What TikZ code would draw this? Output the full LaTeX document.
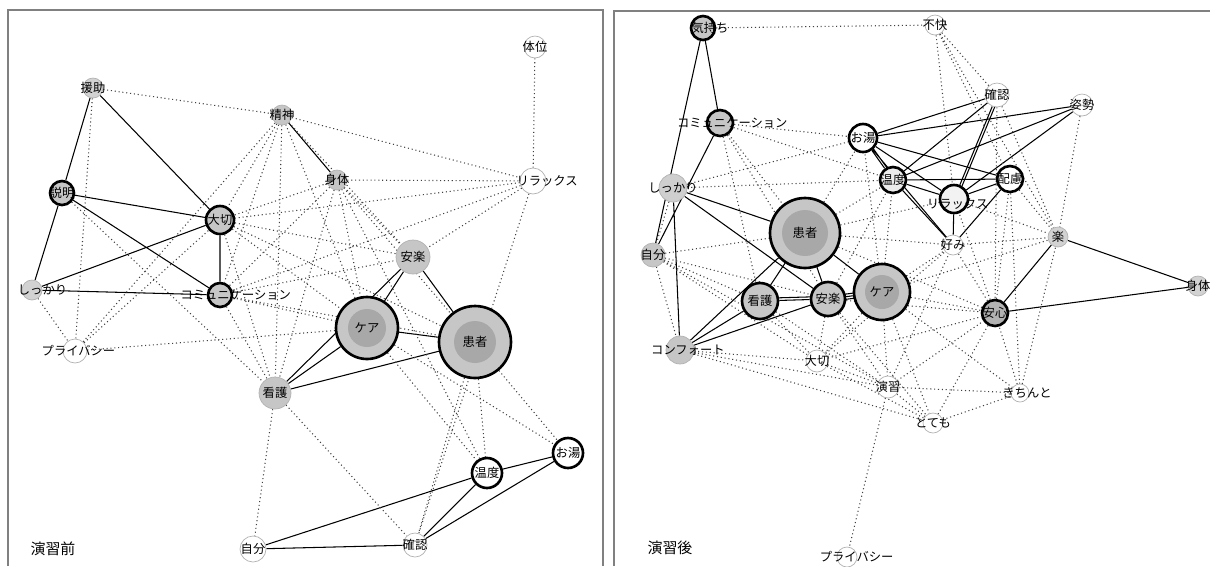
\documentclass[tikz,border=0pt]{standalone}
\usepackage{fontspec}
\setmainfont{Noto Sans CJK JP}
\usetikzlibrary{backgrounds}
\tikzset{
  kw/.style={circle,inner sep=0pt,minimum size=#1*0.4mm,draw=gray!60,fill=gray!45,line width=0.4pt},
  shiro/.style={fill=white},
  futo/.style={draw=black,line width=1.5pt},
  oki/.style={fill=gray!45,path picture={\fill[gray!68](path picture bounding box.center)circle[radius=#1*0.2mm];}},
  go/.style={font=\fontsize{7}{8}\selectfont,inner sep=0pt},
  sen/.style={line width=0.6pt},
  ten/.style={line width=0.6pt,black!75,dash pattern=on 0.6pt off 1.6pt},
  waku/.style={gray,line width=1pt},
}
\begin{document}
\begin{tikzpicture}[x=0.02cm,y=-0.02cm]
  \useasboundingbox(0,0)rectangle(1210,566);
  \draw[waku](8,566)--(8,10)--(603,10)--(603,566);
  \draw[waku](614,566)--(614,11)--(1210,11);
  \begin{scope}
    \node[kw=10,fill=gray!35,label={[go]center:援助}](enjo)at(93,88){};
    \node[kw=10,label={[go]center:精神}](seishin)at(282,115){};
    \node[kw=11,shiro,label={[go]center:体位}](taii)at(535,47){};
    \node[kw=10,label={[go]center:身体}](shintai)at(337,180){};
    \node[kw=13,shiro,label={[go,xshift=8pt]center:リラックス}](relax)at(533,181){};
    \node[kw=12,futo,label={[go]center:説明}](setsumei)at(62,193){};
    \node[kw=14,futo,label={[go]center:大切}](taisetsu)at(220,220){};
    \node[kw=17,label={[go]center:安楽}](anraku)at(413,257){};
    \node[kw=10,fill=gray!35,label={[go,xshift=6pt]center:しっかり}](shikkari)at(32,290){};
    \node[kw=12,futo,label={[go,xshift=9pt]center:コミュニケーション}](comm)at(220,295){};
    \node[kw=12,shiro,label={[go,xshift=2pt]center:プライバシー}](privacy)at(75,351){};
    \node[kw=31,futo,oki=19,label={[go]center:ケア}](care)at(367,328){};
    \node[kw=36,futo,oki=21,label={[go]center:患者}](kanja)at(475,342){};
    \node[kw=16,label={[go]center:看護}](kango)at(275,393){};
    \node[kw=15,shiro,futo,label={[go]center:お湯}](oyu)at(568,453){};
    \node[kw=15,shiro,futo,label={[go]center:温度}](ondo)at(487,473){};
    \node[kw=13,shiro,label={[go]center:自分}](jibun)at(253,549){};
    \node[kw=12,shiro,label={[go]center:確認}](kakunin)at(415,545){};
    \node[go,font=\fontsize{8.5}{9}\selectfont](zen)at(53,549){演習前};
    \begin{scope}[on background layer]
      \draw[sen](enjo)--(setsumei) (enjo)--(taisetsu) (setsumei)--(taisetsu)
        (setsumei)--(shikkari) (setsumei)--(comm) (taisetsu)--(shikkari)
        (taisetsu)--(comm) (shikkari)--(comm) (seishin)--(shintai);
      \draw[sen](anraku)--(care) (anraku)--(kango) (anraku)--(kanja)
        (care)--(kanja) (care)--(kango) (kango)--(kanja);
      \draw[sen](ondo)--(oyu) (ondo)--(kakunin) (oyu)--(kakunin)
        (ondo)--(jibun) (jibun)--(kakunin);
      \draw[ten](enjo)--(seishin) (enjo)--(privacy) (setsumei)--(kango)
        (shikkari)--(privacy) (privacy)--(taisetsu) (privacy)--(seishin)
        (privacy)--(care) (taii)--(relax);
      \draw[ten](seishin)--(relax) (seishin)--(taisetsu) (seishin)--(comm)
        (seishin)--(kango) (seishin)--(care) (seishin)--(anraku);
      \draw[ten](shintai)--(relax) (shintai)--(taisetsu) (shintai)--(comm)
        (shintai)--(kango) (shintai)--(care) (shintai)--(anraku)
        (shintai)--(kanja) (shintai)--(ondo);
      \draw[ten](relax)--(taisetsu) (relax)--(comm) (relax)--(anraku)
        (relax)--(kakunin);
      \draw[ten](taisetsu)--(anraku) (taisetsu)--(care) (taisetsu)--(kanja)
        (taisetsu)--(kango) (comm)--(anraku) (comm)--(care) (comm)--(kanja)
        (comm)--(kango);
      \draw[ten](kango)--(jibun) (kango)--(kakunin) (care)--(ondo)
        (care)--(oyu) (kanja)--(ondo) (kanja)--(oyu) (kanja)--(kakunin);
    \end{scope}
  \end{scope}
  \begin{scope}[shift={(606,0)}]
    \node[kw=12,futo,label={[go,xshift=4pt]center:気持ち}](kimochi)at(97,28){};
    \node[kw=10,shiro,label={[go]center:不快}](fukai)at(329,25){};
    \node[kw=12,shiro,label={[go]center:確認}](kakunin)at(391,95){};
    \node[kw=11,shiro,label={[go]center:姿勢}](shisei)at(476,105){};
    \node[kw=13,futo,label={[go,xshift=7pt]center:コミュニケーション}](comm)at(114,123){};
    \node[kw=14,shiro,futo,label={[go]center:お湯}](oyu)at(257,138){};
    \node[kw=14,fill=gray!38,label={[go]center:しっかり}](shikkari)at(67,188){};
    \node[kw=13,fill=gray!15,futo,label={[go]center:温度}](ondo)at(287,180){};
    \node[kw=13,shiro,futo,label={[go]center:配慮}](hairyo)at(404,179){};
    \node[kw=14,fill=gray!10,futo,label={[go,xshift=2pt,yshift=-3pt]center:リラックス}](relax)at(348,199){};
    \node[kw=35,futo,oki=23,label={[go]center:患者}](kanja)at(199,233){};
    \node[kw=10,shiro,label={[go]center:好み}](konomi)at(347,245){};
    \node[kw=10,fill=gray!35,label={[go]center:楽}](raku)at(452,237){};
    \node[kw=12,label={[go]center:自分}](jibun)at(47,255){};
    \node[kw=28,futo,oki=17,label={[go]center:ケア}](care)at(276,292){};
    \node[kw=18,futo,label={[go]center:看護}](kango)at(154,301){};
    \node[kw=17,futo,label={[go]center:安楽}](anraku)at(222,299){};
    \node[kw=10,fill=gray!35,label={[go]center:身体}](shintai)at(592,286){};
    \node[kw=13,futo,fill=gray!60,label={[go]center:安心}](anshin)at(389,313){};
    \node[kw=14,label={[go,xshift=4.5pt]center:コンフォート}](comfort)at(74,350){};
    \node[kw=11,shiro,label={[go]center:大切}](taisetsu)at(211,361){};
    \node[kw=11,shiro,label={[go]center:演習}](enshu)at(282,387){};
    \node[kw=9,shiro,label={[go,xshift=4pt]center:きちんと}](kichinto)at(414,393){};
    \node[kw=10,shiro,label={[go]center:とても}](totemo)at(327,423){};
    \node[kw=10,shiro,label={[go,xshift=5.5pt]center:プライバシー}](privacy)at(241,557){};
    \node[go,font=\fontsize{8.5}{9}\selectfont](go)at(64,548){演習後};
    \begin{scope}[on background layer]
      \draw[sen](kimochi)--(jibun) (kimochi)--(comm) (comm)--(jibun)
        (shikkari)--(comfort) (shikkari)--(kanja) (shikkari)--(anraku)
        (comfort)--(kanja) (comfort)--(kango) (comfort)--(anraku);
      \draw[sen](kanja)--(kango) (kanja)--(anraku) (kanja)--(care)
        (kango)--(anraku) (anraku)--(care)
        ([yshift=1.5pt]kango.center)--([yshift=1.5pt]anraku.center)
        ([yshift=1.5pt]anraku.center)--([yshift=1.5pt]care.center)
        ([yshift=-1.5pt]anraku.center)--([yshift=-1.5pt]care.center);
      \draw[sen](oyu)--(kakunin) (oyu)--(shisei) (oyu)--(ondo) (oyu)--(hairyo)
        (oyu)--(relax) (oyu)--(konomi)
        ([xshift=1.5pt]oyu.center)--([xshift=1.5pt]ondo.center);
      \draw[sen](ondo)--(hairyo) (ondo)--(relax) (ondo)--(konomi)
        (ondo)--(kakunin) (ondo)--(shisei);
      \draw[sen](relax)--(kakunin) (relax)--(shisei) (relax)--(hairyo)
        (relax)--(konomi) (hairyo)--(konomi)
        ([xshift=1.5pt]relax.center)--([xshift=1.5pt]kakunin.center);
      \draw[sen](raku)--(anshin) (raku)--(shintai) (anshin)--(shintai);
      \draw[ten](kimochi)--(fukai) (fukai)--(kakunin) (fukai)--(hairyo)
        (fukai)--(raku) (fukai)--(relax);
      \draw[ten](comm)--(oyu) (comm)--(ondo) (comm)--(kanja) (comm)--(anraku)
        (comm)--(kango) (shikkari)--(oyu) (shikkari)--(ondo) (shikkari)--(jibun);
      \draw[ten](jibun)--(kanja) (jibun)--(kango) (jibun)--(anraku)
        (jibun)--(comfort) (jibun)--(taisetsu) (jibun)--(enshu)
        (comfort)--(taisetsu) (comfort)--(enshu) (comfort)--(totemo);
      \draw[ten](kanja)--(oyu) (kanja)--(ondo) (kanja)--(konomi) (kanja)--(relax)
        (kanja)--(anshin) (kango)--(taisetsu) (kango)--(enshu);
      \draw[ten](anraku)--(taisetsu) (anraku)--(enshu) (anraku)--(totemo)
        (anraku)--(anshin) (anraku)--(ondo);
      \draw[ten](care)--(taisetsu) (care)--(enshu) (care)--(totemo)
        (care)--(anshin) (care)--(kichinto) (care)--(konomi) (care)--(raku)
        (care)--(ondo) (care)--(oyu);
      \draw[ten](taisetsu)--(enshu) (taisetsu)--(totemo) (taisetsu)--(anshin)
        (taisetsu)--(konomi) (enshu)--(kichinto) (enshu)--(totemo)
        (enshu)--(anshin) (enshu)--(konomi) (enshu)--(privacy);
      \draw[ten](totemo)--(kichinto) (totemo)--(anshin) (kichinto)--(anshin)
        (kichinto)--(hairyo) (kichinto)--(raku) (anshin)--(konomi)
        (anshin)--(hairyo) (anshin)--(relax);
      \draw[ten](konomi)--(raku) (relax)--(raku) (hairyo)--(raku)
        (kakunin)--(raku) (shisei)--(raku) (kakunin)--(anshin);
    \end{scope}
  \end{scope}
\end{tikzpicture}
\end{document}
